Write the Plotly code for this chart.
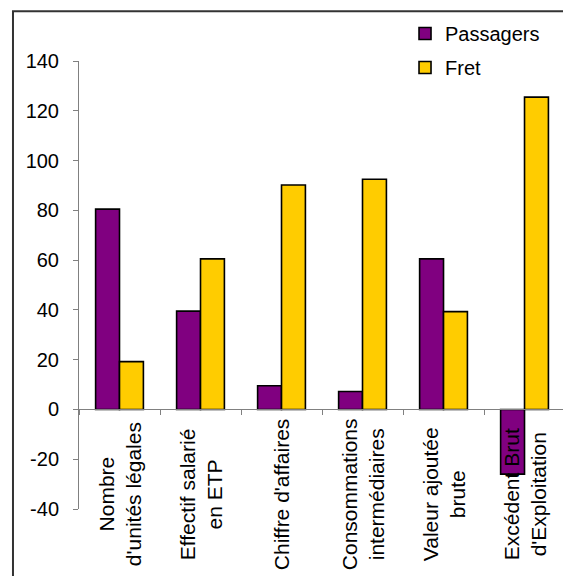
import plotly.graph_objects as go

# Category labels (line breaks as in the original)
categories = [
    "Nombre<br>d'unités légales",
    "Effectif salarié<br>en ETP",
    "Chiffre d'affaires",
    "Consommations<br>intermédiaires",
    "Valeur ajoutée<br>brute",
    "Excédent Brut<br>d'Exploitation",
]
cat_keys = ["c1", "c2", "c3", "c4", "c5", "c6"]

passagers = [80.5, 39.5, 9.5, 7.2, 60.5, -26]
fret = [19.2, 60.5, 90.2, 92.5, 39.3, 125.5]

y_ticks = [-40, -20, 0, 20, 40, 60, 80, 100, 120, 140]
y_ticktext = [str(v) for v in y_ticks]  # plain hyphen for negatives

FONT = "Liberation Sans, Arial, sans-serif"

fig = go.Figure()
fig.add_trace(go.Bar(
    name="Passagers", x=cat_keys, y=passagers, legendgroup="p",
    marker=dict(color="#800080", line=dict(color="black", width=1.6)),
))
fig.add_trace(go.Bar(
    name="Fret", x=cat_keys, y=fret, legendgroup="f",
    marker=dict(color="#FFCC00", line=dict(color="black", width=1.6)),
))

# rotated category labels under the zero line
for key, label in zip(cat_keys, categories):
    fig.add_annotation(
        x=key, xref="x", y=0.032, yref="paper",
        text=label, textangle=-90, showarrow=False,
        xanchor="center", yanchor="middle", align="center",
        font=dict(family=FONT, size=21, color="black"),
    )

# outer frame of the chart area
fig.add_shape(
    type="rect", xref="paper", yref="paper",
    x0=-0.1364, x1=1.2, y0=-0.5, y1=1.111,
    line=dict(color="#333333", width=2), fillcolor="rgba(0,0,0,0)",
)

fig.update_layout(
    width=563, height=576,
    margin=dict(l=79, r=0, t=61, b=67),
    paper_bgcolor="white", plot_bgcolor="white",
    barmode="group", bargap=0.41, bargroupgap=0,
    font=dict(family=FONT, size=20, color="black"),
    legend=dict(
        x=0.6736, y=1.105, xanchor="left", yanchor="top",
        bgcolor="rgba(0,0,0,0)", font=dict(size=20),
        itemwidth=30, tracegroupgap=5,
    ),
    xaxis=dict(
        range=[-0.5, 5.475], type="category",
        showticklabels=False, showgrid=False,
        showline=True, linecolor="#808080", linewidth=1,
        ticks="outside", tickson="boundaries", ticklen=5, tickcolor="#808080",
        anchor="free", position=40 / 180,
    ),
    yaxis=dict(
        range=[-40, 140], tickvals=y_ticks, ticktext=y_ticktext,
        showgrid=False, zeroline=False,
        showline=True, linecolor="#808080", linewidth=1,
        ticks="outside", ticklen=5, tickcolor="#808080",
        ticklabelstandoff=10,
        tickfont=dict(family=FONT, size=20, color="black"),
    ),
)

# drop the default page margin so the figure sits at the window origin
fig.write_html(
    "out.html",
    config={"displayModeBar": False},
    post_script="document.body.style.margin='0';document.body.style.overflow='hidden';",
)
